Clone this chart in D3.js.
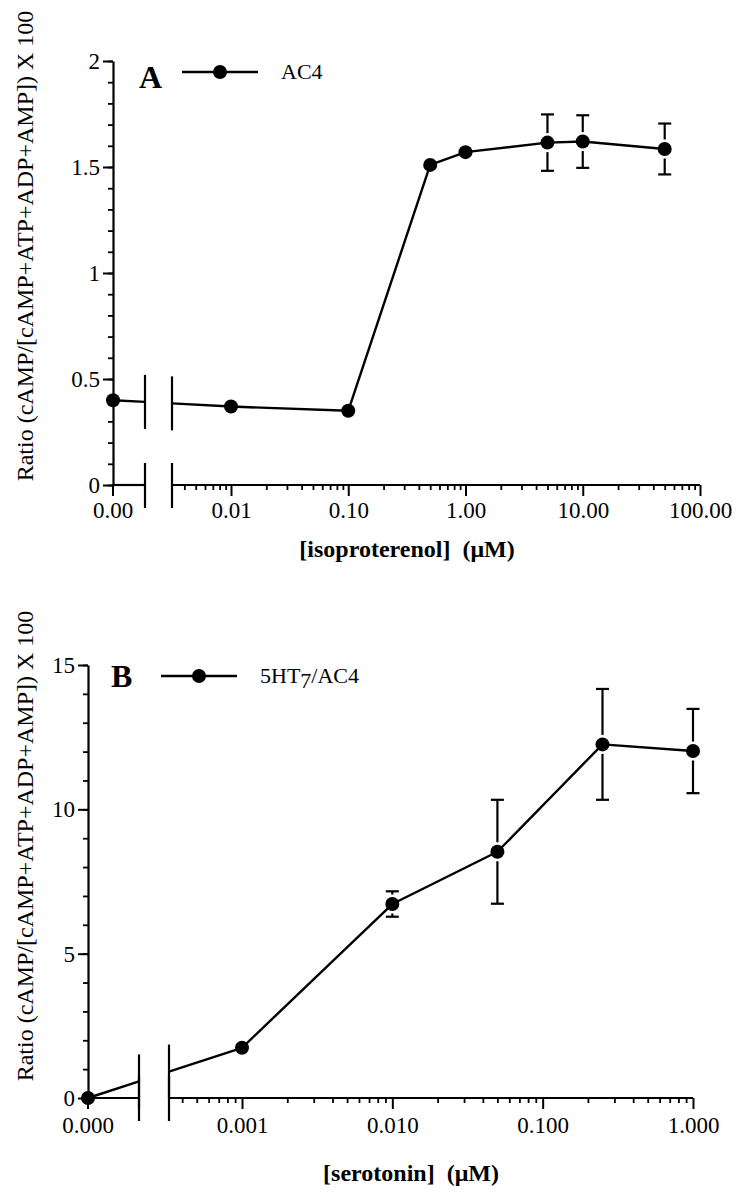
<!DOCTYPE html>
<html>
<head>
<meta charset="utf-8">
<script src="https://cdn.jsdelivr.net/npm/d3@7"></script>
<style>
body { margin: 0; background: #fff; }
svg text { font-family: "Liberation Serif", "Times New Roman", serif; fill: #000; }
</style>
</head>
<body>
<div id="divchart"></div>
<script>
// panel A : isoproterenol on AC4
var isoDose = [0, 0.01, 0.1, 0.5, 1, 5, 10, 50];
var isoRatio = [0.40, 0.37, 0.35, 1.51, 1.57, 1.615, 1.62, 1.585];
var isoErr = [null, null, null, null, null, 0.133, 0.124, 0.12];
var isoXTicks = [0, 0.01, 0.1, 1, 10, 100];
var isoXLabels = ["0.00", "0.01", "0.10", "1.00", "10.00", "100.00"];
var isoYTicks = [0, 0.5, 1, 1.5, 2];
var isoYLabels = ["0", "0.5", "1", "1.5", "2"];

// panel B : serotonin on 5HT7/AC4
var seroDose = [0, 0.001, 0.01, 0.05, 0.25, 1];
var seroRatio = [0, 1.74, 6.72, 8.53, 12.25, 12.02];
var seroErr = [null, null, 0.44, 1.8, 1.92, 1.46];
var seroXTicks = [0, 0.001, 0.01, 0.1, 1];
var seroXLabels = ["0.000", "0.001", "0.010", "0.100", "1.000"];
var seroYTicks = [0, 5, 10, 15];
var seroYLabels = ["0", "5", "10", "15"];

var width = 738, height = 1199;
var yTitle = "Ratio (cAMP/[cAMP+ATP+ADP+AMP]) X 100";

var svg = d3.select("#divchart").append("svg")
    .attr("width", width)
    .attr("height", height);

function drawPanel(p) {
    var g = svg.append("g");

    var y = d3.scaleLinear().domain([0, p.yMax]).range([p.yBottom, p.yTop]);
    var xLog = d3.scaleLog().domain(p.logDomain).range(p.logRange);
    var xMinor = xLog.copy().domain([xLog.invert(p.brkR), p.logDomain[1]]).range([p.brkR, p.logRange[1]]);

    function xpos(d) { return d === 0 ? p.x0 : xLog(d); }

    // y axis
    var yMinor = d3.range(0, p.yMax + 1e-9, p.yStep);
    g.append("g")
        .attr("transform", "translate(" + p.x0 + ",0)")
        .call(d3.axisLeft(y).tickValues(yMinor).tickSize(5).tickFormat(""))
        .call(function (a) { a.select(".domain").remove(); })
        .selectAll("line").attr("stroke-width", 1.8);

    var yax = g.append("g")
        .attr("transform", "translate(" + p.x0 + ",0)")
        .call(d3.axisLeft(y).tickValues(p.yTicks).tickSize(10).tickSizeOuter(0).tickPadding(3)
            .tickFormat(function (d, i) { return p.yLabels[i]; }));
    yax.select(".domain").attr("stroke-width", 2.2);
    yax.selectAll("line").attr("stroke-width", 2);
    yax.selectAll("text").attr("font-size", 23).attr("font-family", "Liberation Serif");

    // x axis, log part
    var logMajor = p.xTicks.slice(1);
    var minors = xMinor.ticks().filter(function (d) {
        return Math.abs(Math.log10(d) - Math.round(Math.log10(d))) > 1e-6;
    });
    g.append("g")
        .attr("transform", "translate(0," + p.yBottom + ")")
        .call(d3.axisBottom(xLog).tickValues(minors).tickSize(5).tickFormat(""))
        .call(function (a) { a.select(".domain").remove(); })
        .selectAll("line").attr("stroke-width", 1.8);

    var xax = g.append("g")
        .attr("transform", "translate(0," + p.yBottom + ")")
        .call(d3.axisBottom(xLog).tickValues(logMajor).tickSize(11).tickPadding(p.xPad)
            .tickFormat(function (d, i) { return p.xLabels[i + 1]; }));
    xax.select(".domain").remove();
    xax.selectAll("line").attr("stroke-width", 2);
    xax.selectAll("text").attr("font-size", 23).attr("font-family", "Liberation Serif");

    // zero tick
    g.append("line")
        .attr("x1", xpos(0)).attr("x2", xpos(0))
        .attr("y1", p.yBottom).attr("y2", p.yBottom + 11)
        .attr("stroke", "#000").attr("stroke-width", 2);
    g.append("text")
        .attr("x", xpos(0)).attr("y", p.yBottom + 11 + p.xPad)
        .attr("dy", "0.71em")
        .attr("text-anchor", "middle")
        .attr("font-size", 23)
        .text(p.xLabels[0]);

    // axis segments either side of the break
    g.append("line")
        .attr("x1", p.x0).attr("x2", p.brkL)
        .attr("y1", p.yBottom).attr("y2", p.yBottom)
        .attr("stroke", "#000").attr("stroke-width", 2.2);
    g.append("line")
        .attr("x1", p.brkR).attr("x2", xLog(logMajor[logMajor.length - 1]))
        .attr("y1", p.yBottom).attr("y2", p.yBottom)
        .attr("stroke", "#000").attr("stroke-width", 2.2);

    // data line
    var pts = p.dose.map(function (d, i) {
        return { x: xpos(d), y: y(p.ratio[i]), e: p.err[i], v: p.ratio[i] };
    });
    var p0 = pts[0], p1 = pts[1];
    function yAt(x) { return p0.y + (p1.y - p0.y) * (x - p0.x) / (p1.x - p0.x); }

    g.append("line")
        .attr("x1", p0.x).attr("y1", p0.y)
        .attr("x2", p.brkL).attr("y2", yAt(p.brkL))
        .attr("stroke", "#000").attr("stroke-width", 2.4);
    g.append("line")
        .attr("x1", p.brkR).attr("y1", yAt(p.brkR))
        .attr("x2", p1.x).attr("y2", p1.y)
        .attr("stroke", "#000").attr("stroke-width", 2.4);

    var line = d3.line().x(function (d) { return d.x; }).y(function (d) { return d.y; });
    g.append("path")
        .datum(pts.slice(1))
        .attr("d", line)
        .attr("fill", "none")
        .attr("stroke", "#000")
        .attr("stroke-width", 2.4)
        .attr("stroke-linejoin", "round");

    // break marks
    [p.brkL, p.brkR].forEach(function (bx) {
        g.append("line")
            .attr("x1", bx).attr("x2", bx)
            .attr("y1", p.yBottom - 22).attr("y2", p.yBottom + 23)
            .attr("stroke", "#000").attr("stroke-width", 2.2);
        g.append("line")
            .attr("x1", bx).attr("x2", bx)
            .attr("y1", yAt(bx) - 27).attr("y2", yAt(bx) + 27)
            .attr("stroke", "#000").attr("stroke-width", 2.2);
    });

    // error bars
    var r = 7, gap = r + 2.5, cap = 6.5;
    pts.forEach(function (d) {
        if (d.e == null) return;
        var yt = y(d.v + d.e), yb = y(d.v - d.e);
        if (d.y - gap > yt) {
            g.append("line").attr("x1", d.x).attr("x2", d.x)
                .attr("y1", yt).attr("y2", d.y - gap)
                .attr("stroke", "#000").attr("stroke-width", 2.2);
        }
        if (d.y + gap < yb) {
            g.append("line").attr("x1", d.x).attr("x2", d.x)
                .attr("y1", d.y + gap).attr("y2", yb)
                .attr("stroke", "#000").attr("stroke-width", 2.2);
        }
        [yt, yb].forEach(function (cy) {
            g.append("line").attr("x1", d.x - cap).attr("x2", d.x + cap)
                .attr("y1", cy).attr("y2", cy)
                .attr("stroke", "#000").attr("stroke-width", 2.2);
        });
    });

    g.selectAll(".pt")
        .data(pts)
        .enter()
        .append("circle")
        .attr("class", "pt")
        .attr("cx", function (d) { return d.x; })
        .attr("cy", function (d) { return d.y; })
        .attr("r", r)
        .attr("fill", "#000");

    // legend
    g.append("text")
        .attr("x", p.letterX).attr("y", p.letterY)
        .attr("font-size", 32).attr("font-weight", "bold")
        .text(p.letter);
    g.append("line")
        .attr("x1", p.legX).attr("x2", p.legX + 76)
        .attr("y1", p.legY).attr("y2", p.legY)
        .attr("stroke", "#000").attr("stroke-width", 2.4);
    g.append("circle")
        .attr("cx", p.legX + 38).attr("cy", p.legY).attr("r", r).attr("fill", "#000");
    var lt = g.append("text")
        .attr("x", p.legX + 99).attr("y", p.legY + 7)
        .attr("font-size", 22);
    p.legend.forEach(function (s) {
        lt.append("tspan").attr("dy", s.dy).text(s.t);
    });

    // axis titles
    g.append("text")
        .attr("transform", "translate(33," + p.yTitleY + ") rotate(-90)")
        .attr("text-anchor", "middle")
        .attr("font-size", 24)
        .text(yTitle);
    g.append("text")
        .attr("x", p.xTitleX).attr("y", p.xTitleY)
        .attr("text-anchor", "middle")
        .attr("font-size", 24).attr("font-weight", "bold")
        .style("white-space", "pre")
        .text(p.xTitle);
}

drawPanel({
    dose: isoDose, ratio: isoRatio, err: isoErr,
    xTicks: isoXTicks, xLabels: isoXLabels, yTicks: isoYTicks, yLabels: isoYLabels,
    yMax: 2, yStep: 0.1, yBottom: 485, yTop: 61,
    x0: 113, brkL: 145, brkR: 172, logDomain: [0.01, 100], logRange: [231, 700], xPad: 6,
    letter: "A", letterX: 139, letterY: 88, legX: 182, legY: 72,
    legend: [{ t: "AC4", dy: 0 }],
    yTitleY: 246, xTitle: "[isoproterenol]  (\u03bcM)", xTitleX: 407, xTitleY: 557
});

drawPanel({
    dose: seroDose, ratio: seroRatio, err: seroErr,
    xTicks: seroXTicks, xLabels: seroXLabels, yTicks: seroYTicks, yLabels: seroYLabels,
    yMax: 15, yStep: 1, yBottom: 1098, yTop: 665,
    x0: 88, brkL: 139, brkR: 169, logDomain: [0.001, 1], logRange: [242, 693], xPad: 8,
    letter: "B", letterX: 111, letterY: 687, legX: 161, legY: 676,
    legend: [{ t: "5HT", dy: 0 }, { t: "7", dy: 5 }, { t: "/AC4", dy: -5 }],
    yTitleY: 846, xTitle: "[serotonin]  (\u03bcM)", xTitleX: 411, xTitleY: 1181
});
</script>
</body>
</html>
